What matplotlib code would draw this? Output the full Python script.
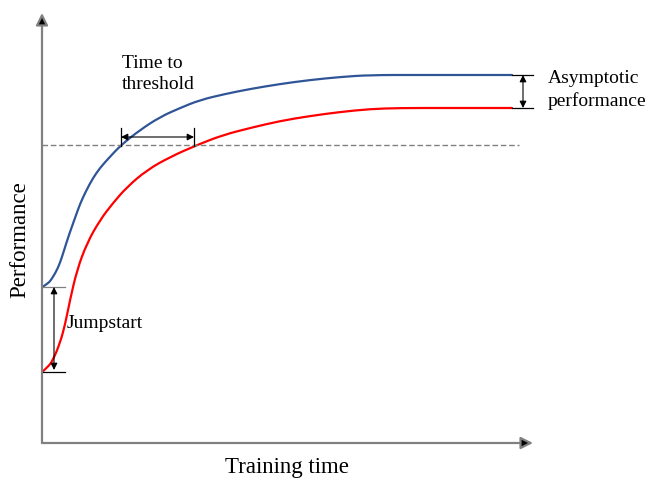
import numpy as np
import matplotlib
matplotlib.use("Agg")
import matplotlib.pyplot as plt
from matplotlib.path import Path
from matplotlib.patches import PathPatch

plt.rcParams['font.family'] = ['Liberation Serif', 'DejaVu Serif']

# training time / performance (arbitrary units)
t_transfer = [0, 6, 11, 16, 20, 24, 28, 33, 38, 44, 51, 58, 65, 79, 98, 118,
              138, 158, 183, 208, 238, 268, 298, 328, 378, 428, 470]
p_transfer = [156, 159, 166, 175, 186, 199, 211, 225, 239, 252, 265, 275, 283,
              298, 313, 326, 335, 343, 349, 354, 359, 363, 366, 368, 368, 368, 368]

t_scratch = [0, 6, 11, 18, 23, 28, 35, 45, 58, 71, 85, 105, 128, 155, 181, 208,
             238, 268, 298, 328, 358, 408, 470]
p_scratch = [71, 76, 83, 100, 118, 143, 173, 200, 223, 240, 256, 273, 286, 298,
             308, 315, 322, 327, 331, 334, 335, 335, 335]

threshold = 298
t_hit_transfer = 79
t_hit_scratch = 152

BLUE = '#2f5597'
RED = '#ff0000'
GREY = '#808080'


def smooth_curve(ax, xs, ys, color):
    # quadratic bezier through midpoints, the read points act as controls
    pts = np.column_stack([xs, ys]).astype(float)
    verts = [pts[0]]
    codes = [Path.MOVETO]
    for i in range(1, len(pts) - 1):
        end = pts[i + 1] if i == len(pts) - 2 else (pts[i] + pts[i + 1]) / 2
        verts += [pts[i], end]
        codes += [Path.CURVE3, Path.CURVE3]
    ax.add_patch(PathPatch(Path(verts, codes), fc='none', ec=color, lw=1.6,
                           capstyle='round'))


def dbl_arrow(ax, p0, p1):
    ax.annotate('', xy=p1, xytext=p0,
                arrowprops=dict(arrowstyle='<|-|>', color='black', lw=0.8,
                                mutation_scale=10, shrinkA=0, shrinkB=0))


def main():
    fig = plt.figure(figsize=(6.49, 4.84), dpi=100)
    ax = fig.add_axes([42 / 649, 41 / 484, 607 / 649, 443 / 484])
    ax.set_xlim(0, 607)
    ax.set_ylim(0, 443)
    ax.axis('off')

    # axes with arrow heads
    for tip in [(0, 430), (491, 0)]:
        ax.annotate('', xy=tip, xytext=(0, 0),
                    arrowprops=dict(arrowstyle='-|>', ec=GREY, fc='black', lw=1.6,
                                    mutation_scale=18, shrinkA=0, shrinkB=0))

    ax.plot([0, 477], [threshold, threshold], color=GREY, lw=1, ls=(0, (4, 2)))

    smooth_curve(ax, t_transfer, p_transfer, BLUE)
    smooth_curve(ax, t_scratch, p_scratch, RED)

    # jumpstart
    j_top, j_bot = p_transfer[0], p_scratch[0]
    ax.plot([0, 23], [j_top, j_top], color=GREY, lw=0.9)
    ax.plot([0, 23], [j_bot, j_bot], color='black', lw=0.9)
    dbl_arrow(ax, (12, j_bot + 2), (12, j_top))
    ax.text(25, 120, 'Jumpstart', fontsize=14, ha='left', va='center')

    # time to threshold
    for tt in [t_hit_transfer, t_hit_scratch]:
        ax.plot([tt, tt], [threshold - 1, threshold + 17], color='black', lw=0.9)
    dbl_arrow(ax, (t_hit_transfer, threshold + 8), (t_hit_scratch, threshold + 8))
    ax.text(80, 369, 'Time to\nthreshold', fontsize=14, ha='left', va='center',
            linespacing=1.35)

    # asymptotic performance
    a_top, a_bot = p_transfer[-1], p_scratch[-1]
    ax.plot([470, 491], [a_top, a_top], color='black', lw=0.9)
    ax.plot([470, 491], [a_bot, a_bot], color='black', lw=0.9)
    dbl_arrow(ax, (481, a_bot), (481, a_top))
    ax.text(506, 353, 'Asymptotic\nperformance', fontsize=14, ha='left', va='center',
            linespacing=1.35, clip_on=False)

    ax.text(-22, 203, 'Performance', fontsize=16.5, rotation=90,
            ha='center', va='center', clip_on=False)
    ax.text(245, -25, 'Training time', fontsize=16.5, ha='center', va='center',
            clip_on=False)

    fig.savefig('out.png', dpi=100)


if __name__ == "__main__":
    main()
